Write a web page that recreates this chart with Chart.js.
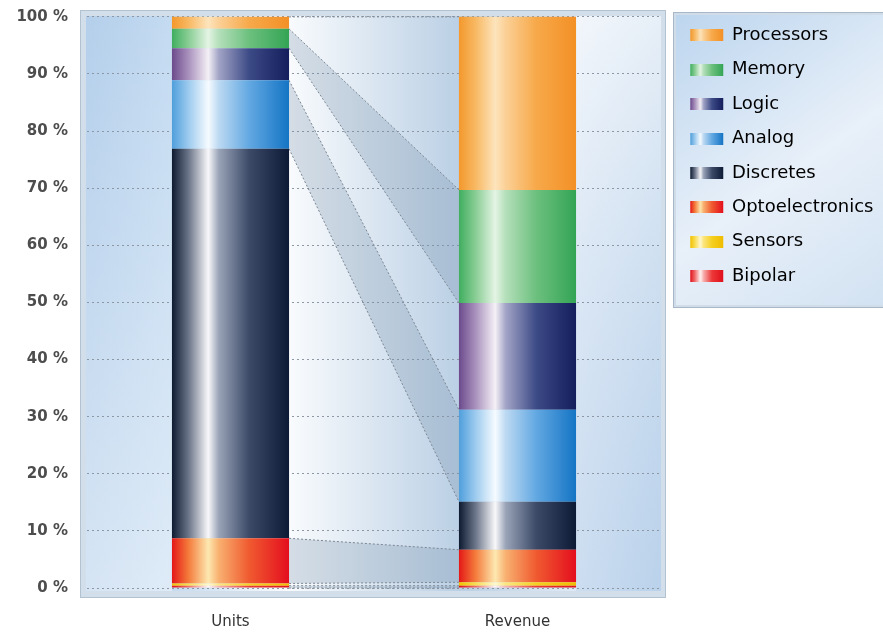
<!DOCTYPE html>
<html>
<head>
<meta charset="utf-8">
<script src="https://cdn.jsdelivr.net/npm/chart.js@4.4.1/dist/chart.umd.min.js"></script>
<style>
html, body { margin: 0; padding: 0; background: #fff; }
#wrap { width: 883px; height: 632px; }
</style>
</head>
<body>
<div id="wrap"><canvas id="shareChart" width="883" height="632"></canvas></div>
<script>
// data, top of the stack first
const CATEGORIES = ['Units', 'Revenue'];
const SERIES  = ['Processors', 'Memory', 'Logic', 'Analog', 'Discretes', 'Optoelectronics', 'Sensors', 'Bipolar'];
const UNITS   = [2.1, 3.4, 5.6, 12.0, 68.2, 7.9, 0.4, 0.4];
const REVENUE = [30.3, 19.8, 18.7, 16.1, 8.4, 5.7, 0.6, 0.4];
const Y_TICKS = [0, 10, 20, 30, 40, 50, 60, 70, 80, 90, 100];

// cylinder look: edge, shade, highlight, highlight, mid, edge
const STOPS = [0, 0.14, 0.31, 0.4, 0.66, 1];
const SHADES = {
    Processors:      ['#f3982c', '#f8b862', '#fde4bc', '#fbd096', '#f7a94a', '#f39026'],
    Memory:          ['#3fae5f', '#88cd94', '#e4f4e4', '#b4dfba', '#6cc07e', '#33a454'],
    Logic:           ['#6c4a8c', '#a890bc', '#f4f0f6', '#a2a4c6', '#3c4a86', '#141e5c'],
    Analog:          ['#4f9fdc', '#9ccaee', '#f6fbff', '#bcd9f2', '#62a8e2', '#1474c4'],
    Discretes:       ['#0d1a30', '#6a7488', '#f8f8fa', '#9aa4b8', '#3c4a68', '#0c1a36'],
    Optoelectronics: ['#e41818', '#f47a3a', '#fde8b0', '#f8b070', '#f05a30', '#e40e1e'],
    Sensors:         ['#f2c200', '#f8dc50', '#fff8d0', '#fbe680', '#f5d020', '#f0bc00'],
    Bipolar:         ['#e0101c', '#f06a6a', '#fff4f4', '#f8b0b0', '#ec3838', '#e0101c']
};

const BAR_PCT = 0.408;
const Y_MAX = 101.2;   // a little headroom so the frame starts above 100 %

function fillStops(grad, colors)
{
    colors.forEach((c, i) => grad.addColorStop(STOPS[i], c));
    return grad;
}

function barHalfWidth(xs)
{
    return xs.width / CATEGORIES.length * BAR_PCT / 2;
}

function barFill(context, name)
{
    const chart = context.chart;
    const xs = chart.scales.x;
    const colors = SHADES[name];

    if (!xs || !xs.width) return colors[4];

    const half = barHalfWidth(xs);
    const cx = xs.getPixelForValue(context.dataIndex);

    return fillStops(chart.ctx.createLinearGradient(cx - half, 0, cx + half, 0), colors);
}

function makeSwatch(name)
{
    const c = document.createElement('canvas');
    c.width = 54;
    c.height = 12;

    const g = c.getContext('2d');
    g.fillStyle = fillStops(g.createLinearGradient(17, 0, 50, 0), SHADES[name]);
    g.fillRect(17, 0, 33, 12);

    return c;
}

const swatches = SERIES.map(makeSwatch);

const backdrop = {
    id: 'backdrop',
    beforeDraw(chart)
    {
        const { ctx, chartArea: area, scales: { y }, legend } = chart;

        ctx.save();
        ctx.fillStyle = '#fff';
        ctx.fillRect(0, 0, chart.width, chart.height);

        // plot frame
        const left = area.left - 7, right = area.right + 5;
        const top = area.top, bottom = y.getPixelForValue(0) + 10;

        ctx.fillStyle = '#d2deea';
        ctx.fillRect(left, top, right - left, bottom - top);
        ctx.strokeStyle = '#b3c2d1';
        ctx.lineWidth = 1;
        ctx.strokeRect(left + 0.5, top + 0.5, right - left - 1, bottom - top - 1);

        const il = left + 6, ir = right - 5, it = top + 6, ib = bottom - 7;
        const w = ir - il;
        const f = px => Math.min(1, Math.max(0, (px - il) / w));
        const half = barHalfWidth(chart.scales.x);
        const u0 = chart.scales.x.getPixelForValue(0), r0 = chart.scales.x.getPixelForValue(1);

        const bg = ctx.createLinearGradient(il, 0, ir, 0);
        bg.addColorStop(0, '#b4cfeb');
        bg.addColorStop(f(u0 - half), '#c4dbf1');
        bg.addColorStop(f(u0 + half), '#f9fbfd');
        bg.addColorStop(f(r0 - half), '#bbd0e5');
        bg.addColorStop(f(r0 + half), '#dfe9f5');
        bg.addColorStop(1, '#c2d7ec');
        ctx.fillStyle = bg;
        ctx.fillRect(il, it, w, ib - it);

        // lighter lower left, lighter upper right
        const lo = ctx.createLinearGradient(0, it, 0, ib);
        lo.addColorStop(0, 'rgba(255,255,255,0)');
        lo.addColorStop(1, 'rgba(255,255,255,0.45)');
        ctx.fillStyle = lo;
        ctx.fillRect(il, it, u0 - half - il, ib - it);

        const hi = ctx.createLinearGradient(0, it, 0, ib);
        hi.addColorStop(0, 'rgba(255,255,255,0.6)');
        hi.addColorStop(1, 'rgba(170,200,232,0.35)');
        ctx.fillStyle = hi;
        ctx.fillRect(r0 + half, it, ir - r0 - half, ib - it);

        // legend panel
        const lx = legend.left + 12, ly = legend.top + 2, lw = chart.width, lh = 296;
        const lg = ctx.createLinearGradient(lx, ly, lx + 210, ly + lh);
        lg.addColorStop(0, '#bcd5ee');
        lg.addColorStop(0.55, '#e8f0f9');
        lg.addColorStop(1, '#d2e2f2');
        ctx.fillStyle = '#d0dce8';
        ctx.fillRect(lx, ly, lw, lh);
        ctx.fillStyle = lg;
        ctx.fillRect(lx + 3, ly + 3, lw, lh - 6);
        ctx.strokeStyle = '#a9b8c8';
        ctx.strokeRect(lx + 0.5, ly + 0.5, lw, lh - 1);

        ctx.restore();
    }
};

const connectors = {
    id: 'connectors',
    beforeDatasetsDraw(chart)
    {
        const { ctx, scales: { x, y } } = chart;
        const half = barHalfWidth(x);
        const x0 = x.getPixelForValue(0) + half;
        const x1 = x.getPixelForValue(1) - half;

        ctx.save();

        let u = 100, r = 100;
        const edges = [[u, r]];

        SERIES.forEach((name, i) => {
            const u2 = u - UNITS[i], r2 = r - REVENUE[i];

            if (i % 2 === 1)
            {
                ctx.beginPath();
                ctx.moveTo(x0, y.getPixelForValue(u));
                ctx.lineTo(x1, y.getPixelForValue(r));
                ctx.lineTo(x1, y.getPixelForValue(r2));
                ctx.lineTo(x0, y.getPixelForValue(u2));
                ctx.closePath();
                ctx.fillStyle = 'rgba(120,145,170,0.28)';
                ctx.fill();
            }

            u = u2;
            r = r2;
            edges.push([u, r]);
        });

        ctx.strokeStyle = '#7d8894';
        ctx.lineWidth = 1;
        ctx.setLineDash([2, 2]);

        edges.forEach(([a, b]) => {
            ctx.beginPath();
            ctx.moveTo(x0, y.getPixelForValue(a));
            ctx.lineTo(x1, y.getPixelForValue(b));
            ctx.stroke();
        });

        ctx.restore();
    }
};

const datasets = SERIES.map((name, i) => ({
    label: name,
    data: [UNITS[i], REVENUE[i]],
    backgroundColor: ctx => barFill(ctx, name),
    borderWidth: 0,
    barPercentage: BAR_PCT,
    categoryPercentage: 1
})).reverse();

const shareCtx = document.getElementById('shareChart').getContext('2d');

let shareChart = new Chart(shareCtx, {
    type: 'bar',
    data: {
        labels: CATEGORIES,
        datasets: datasets
    },
    plugins: [backdrop, connectors],
    options: {
        responsive: false,
        animation: false,
        layout: { padding: { top: 10, left: 0, right: 0, bottom: 3 } },
        plugins: {
            tooltip: { enabled: false },
            legend: {
                position: 'right',
                align: 'start',
                maxWidth: 222,
                labels: {
                    usePointStyle: true,
                    pointStyleWidth: 45.6,
                    padding: 16.4,
                    color: '#262626',
                    font: { family: 'DejaVu Sans', size: 18 },
                    generateLabels: () => SERIES.map((name, i) => ({
                        text: name,
                        pointStyle: swatches[i],
                        fillStyle: SHADES[name][0],
                        strokeStyle: SHADES[name][0],
                        lineWidth: 0,
                        hidden: false,
                        datasetIndex: SERIES.length - 1 - i
                    }))
                }
            }
        },
        scales: {
            x: {
                stacked: true,
                afterFit: scale => { scale.height = 41; },
                grid: { display: false, drawTicks: false },
                border: { display: false },
                ticks: {
                    padding: 25,
                    color: '#333',
                    font: { family: 'DejaVu Sans', size: 15 }
                }
            },
            y: {
                stacked: true,
                min: 0,
                max: Y_MAX,
                afterFit: scale => { scale.width = 87; },
                afterBuildTicks: axis => { axis.ticks = Y_TICKS.map(v => ({ value: v })); },
                grid: { color: '#8d98a4', lineWidth: 1, drawTicks: true, tickLength: 19, tickColor: 'rgba(0,0,0,0)' },
                border: { display: false, dash: [2, 3] },
                ticks: {
                    padding: 0,
                    color: '#4d4d4d',
                    font: { family: 'DejaVu Sans', size: 15, weight: 'bold' },
                    callback: v => v + ' %'
                }
            }
        }
    }
});
</script>
</body>
</html>
